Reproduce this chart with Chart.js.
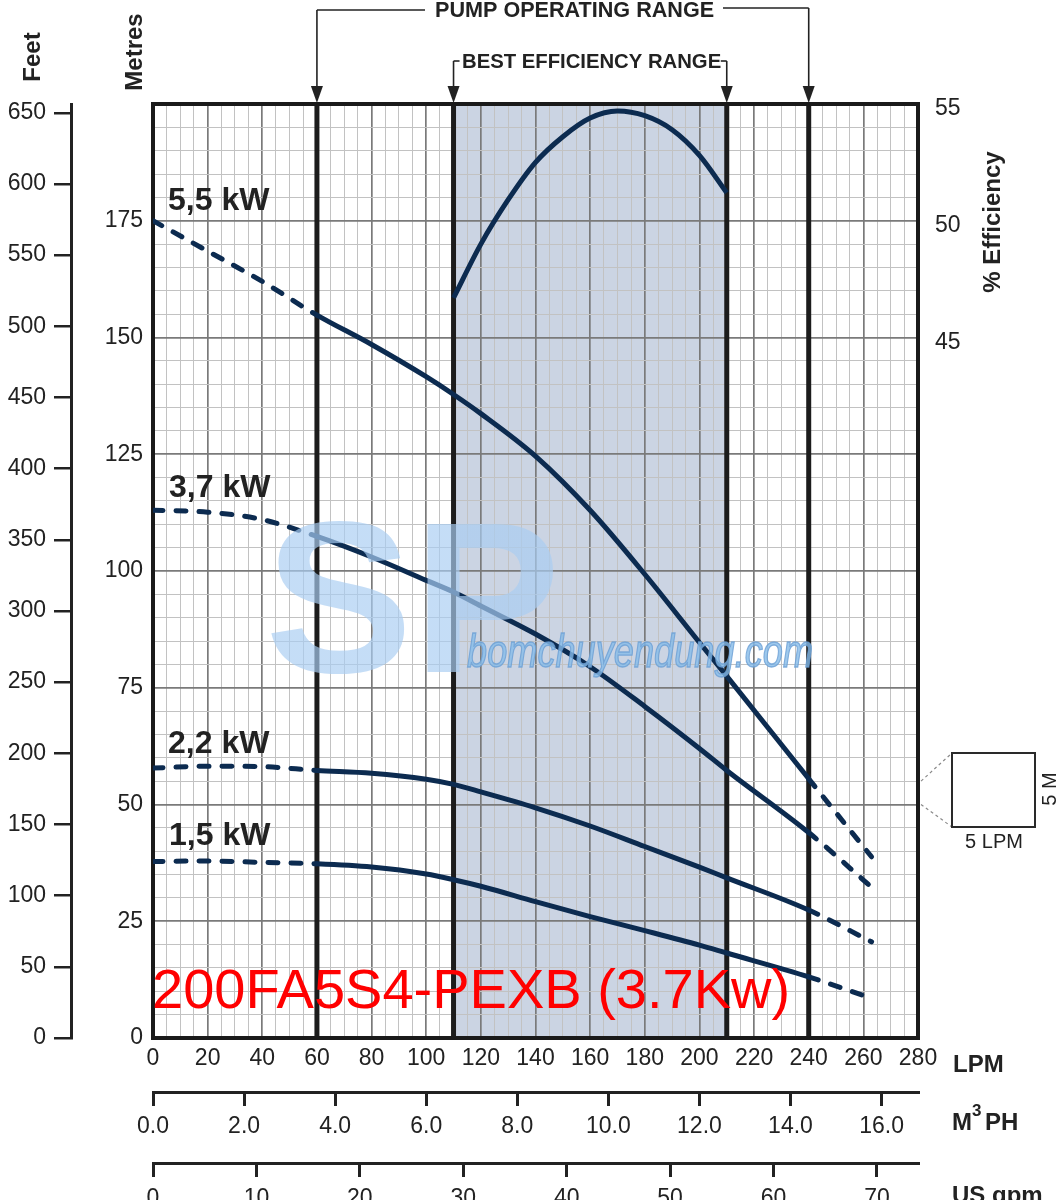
<!DOCTYPE html>
<html><head><meta charset="utf-8">
<script src="https://cdn.jsdelivr.net/npm/chart.js@4.4.1/dist/chart.umd.min.js"></script>
<style>html,body{margin:0;padding:0;background:#fff}canvas{display:block}</style>
</head><body>
<canvas id="c" width="1063" height="1200"></canvas>
<script>
// ---- data ----
const flowLpm = [0, 20, 40, 60, 80, 100, 110, 120, 140, 160, 180, 200, 210, 240, 263];
const head55 = [175, 168.5, 162, 154.8, 148.5, 141.6, 137.8, 133.7, 124.6, 113, 99.3, 84.7, 77.5, 55.5, 38.8];
const head37 = [113, 112.6, 111, 107.4, 103, 98, 95.5, 92.5, 86.5, 79.5, 71, 62, 57.3, 44, 32.3];
const head22 = [57.8, 58.2, 58.1, 57.3, 56.7, 55.4, 54.3, 52.7, 49.3, 45.4, 41, 36.6, 34.3, 27.4, 20.6];
const head15 = [37.8, 37.9, 37.6, 37.3, 36.6, 35.1, 33.9, 32.5, 29.2, 26.0, 23.0, 19.9, 18.2, 13.1, 8.5];
const effFlow = [110, 120, 130, 140, 150, 160, 170, 180, 190, 200, 210];
const effPct = [46.7, 49.0, 50.9, 52.5, 53.6, 54.4, 54.7, 54.5, 53.9, 52.8, 51.2];
const curveNames = ['5,5 kW', '3,7 kW', '2,2 kW', '1,5 kW'];
const operatingRange = [60, 240];
const bestRange = [110, 210];
const lpmRange = [0, 280];
const metreRange = [0, 200];
const effRange = [15, 55];
const effLabelMin = 45;
const title = '200FA5S4-PEXB (3.7Kw)';

// unit conversions for the secondary axes
const feetMax = metreRange[1] / 0.3048;
const m3hMax = lpmRange[1] * 60 / 1000;
const gpmMax = lpmRange[1] / 3.78541;

Chart.defaults.font.family = "'Liberation Sans', Arial, sans-serif";
Chart.defaults.font.size = 23;
Chart.defaults.color = '#222';

const pts = (xs, ys) => xs.map((x, i) => ({x, y: ys[i]}));
const seg = {
  borderDash: c => (c.p1.parsed.x <= operatingRange[0] + 0.01 || c.p0.parsed.x >= operatingRange[1] - 0.01) ? [10, 13] : []
};
const curve = (name, ys) => ({
  label: name, data: pts(flowLpm, ys), xAxisID: 'x', yAxisID: 'y',
  borderColor: '#0c2b50', borderWidth: 5, pointRadius: 0, fill: false,
  cubicInterpolationMode: 'monotone', borderCapStyle: 'round', borderJoinStyle: 'round', segment: seg
});

function arrow(ctx, xp, y0, tip) {
  ctx.beginPath(); ctx.moveTo(xp, y0); ctx.lineTo(xp, tip - 15); ctx.stroke();
  ctx.beginPath(); ctx.moveTo(xp - 6, tip - 17); ctx.lineTo(xp + 6, tip - 17); ctx.lineTo(xp, tip); ctx.closePath(); ctx.fill();
}

const deco = {
  id: 'deco',
  beforeDraw(chart) {
    const {ctx, chartArea: a, scales: {x}} = chart;
    ctx.save();
    ctx.fillStyle = '#fff'; ctx.fillRect(0, 0, chart.width, chart.height);
    const x1 = x.getPixelForValue(bestRange[0]), x2 = x.getPixelForValue(bestRange[1]);
    ctx.fillStyle = '#cbd4e3'; ctx.fillRect(x1, a.top, x2 - x1, a.bottom - a.top);
    ctx.restore();
  },
  beforeDatasetsDraw(chart) {
    const {ctx, chartArea: a, scales: {x, y}} = chart;
    ctx.save();
    ctx.strokeStyle = '#1c1c1c'; ctx.lineWidth = 5;
    [operatingRange[0], bestRange[0], bestRange[1], operatingRange[1]].forEach(v => {
      const p = x.getPixelForValue(v);
      ctx.beginPath(); ctx.moveTo(p, a.top); ctx.lineTo(p, a.bottom); ctx.stroke();
    });
    ctx.lineWidth = 4; ctx.strokeStyle = '#1a1a1a';
    ctx.strokeRect(a.left, a.top, a.right - a.left, a.bottom - a.top);
    ctx.fillStyle = '#222'; ctx.font = "bold 32px 'Liberation Sans', Arial, sans-serif";
    ctx.textAlign = 'left'; ctx.textBaseline = 'alphabetic';
    const lp = [[168, 210], [169, 497], [168, 753], [169, 845]];
    curveNames.forEach((n, i) => ctx.fillText(n, lp[i][0], lp[i][1]));
    ctx.restore();
  },
  afterDraw(chart) {
    const {ctx, chartArea: a, scales: {x, y}} = chart;
    ctx.save();
    // header annotations
    ctx.strokeStyle = '#222'; ctx.fillStyle = '#222'; ctx.lineWidth = 1.6;
    const po0 = x.getPixelForValue(operatingRange[0]), po1 = x.getPixelForValue(operatingRange[1]);
    const be0 = x.getPixelForValue(bestRange[0]), be1 = x.getPixelForValue(bestRange[1]);
    ctx.beginPath(); ctx.moveTo(425, 10); ctx.lineTo(po0, 10); ctx.stroke();
    arrow(ctx, po0, 10, a.top - 1);
    ctx.beginPath(); ctx.moveTo(723, 8); ctx.lineTo(po1, 8); ctx.stroke();
    arrow(ctx, po1, 8, a.top - 1);
    ctx.beginPath(); ctx.moveTo(be0 + 6, 61); ctx.lineTo(be0, 61); ctx.stroke();
    arrow(ctx, be0, 61, a.top - 1);
    ctx.beginPath(); ctx.moveTo(be1 - 6, 61); ctx.lineTo(be1, 61); ctx.stroke();
    arrow(ctx, be1, 61, a.top - 1);
    ctx.font = "bold 21.6px 'Liberation Sans', Arial, sans-serif";
    ctx.textAlign = 'left'; ctx.textBaseline = 'alphabetic';
    ctx.fillText('PUMP OPERATING RANGE', 435, 17);
    ctx.font = "bold 20.3px 'Liberation Sans', Arial, sans-serif";
    ctx.fillText('BEST EFFICIENCY RANGE', 462, 68);

    // rotated axis titles
    const rot = (t, cx, cy, f) => {
      ctx.save(); ctx.translate(cx, cy); ctx.rotate(-Math.PI / 2);
      ctx.font = f; ctx.textAlign = 'center'; ctx.textBaseline = 'middle'; ctx.fillText(t, 0, 0); ctx.restore();
    };
    rot('Feet', 33, 57, "bold 24px 'Liberation Sans', Arial, sans-serif");
    rot('Metres', 135, 52, "bold 24px 'Liberation Sans', Arial, sans-serif");
    rot('% Efficiency', 993, 222, "bold 24px 'Liberation Sans', Arial, sans-serif");

    // bottom axis titles
    ctx.font = "bold 24px 'Liberation Sans', Arial, sans-serif";
    ctx.textAlign = 'left';
    ctx.fillText('LPM', 953, 1072);
    ctx.fillText('M', 952, 1130);
    ctx.fillText('PH', 985, 1130);
    ctx.font = "bold 17px 'Liberation Sans', Arial, sans-serif";
    ctx.fillText('3', 972, 1116);
    ctx.font = "bold 24px 'Liberation Sans', Arial, sans-serif";
    ctx.fillText('US gpm', 952, 1203);

    // grid-cell inset
    const xr = x.getPixelForValue(lpmRange[1]);
    ctx.strokeStyle = '#8a8a8a'; ctx.lineWidth = 1.2; ctx.setLineDash([3, 3]);
    ctx.beginPath(); ctx.moveTo(xr + 3, y.getPixelForValue(55)); ctx.lineTo(952, 753);
    ctx.moveTo(xr + 3, y.getPixelForValue(50)); ctx.lineTo(952, 827); ctx.stroke();
    ctx.setLineDash([]);
    ctx.strokeStyle = '#2a2a2a'; ctx.lineWidth = 2;
    ctx.strokeRect(952, 753, 83, 74);
    ctx.font = "20px 'Liberation Sans', Arial, sans-serif";
    ctx.textAlign = 'center';
    ctx.fillText('5 LPM', 994, 848);
    rot('5 M', 1050, 789, "20px 'Liberation Sans', Arial, sans-serif");

    // watermark
    ctx.save();
    ctx.globalAlpha = 0.68;
    const g = ctx.createLinearGradient(0, 518, 0, 672);
    g.addColorStop(0, '#a9cdf2'); g.addColorStop(0.5, '#86aae4'); g.addColorStop(1, '#6b80cf');
    ctx.fillStyle = g;
    ctx.font = "bold 215px 'Liberation Sans', Arial, sans-serif";
    ctx.textAlign = 'left'; ctx.textBaseline = 'alphabetic';
    ctx.save(); ctx.translate(265, 672); ctx.scale(1.03, 1); ctx.fillText('SP', 0, 0); ctx.restore();
    ctx.globalAlpha = 0.8;
    ctx.translate(467, 667); ctx.scale(0.77, 1);
    ctx.font = "italic 47px 'Liberation Sans', Arial, sans-serif";
    ctx.fillStyle = '#86bbe8'; ctx.fillText('bomchuyendung.com', 0, 0);
    ctx.strokeStyle = '#6b9fd4'; ctx.lineWidth = 1.4; ctx.strokeText('bomchuyendung.com', 0, 0);
    ctx.restore();

    // red model title
    ctx.fillStyle = '#ff0000';
    ctx.font = "56px 'Liberation Sans', Arial, sans-serif";
    ctx.textAlign = 'left'; ctx.textBaseline = 'alphabetic';
    ctx.fillText(title, 152, 1008);
    ctx.restore();
  }
};

const gridColor = step => c => (c.tick && Math.abs(c.tick.value % step) < 1e-6) ? '#7a7a7a' : '#c2c2c2';
const gridWidth = step => c => (c.tick && Math.abs(c.tick.value % step) < 1e-6) ? 1.7 : 1;

new Chart(document.getElementById('c'), {
  type: 'line',
  data: {
    datasets: [
      curve(curveNames[0], head55),
      curve(curveNames[1], head37),
      curve(curveNames[2], head22),
      curve(curveNames[3], head15),
      {label: 'Efficiency', data: pts(effFlow, effPct), xAxisID: 'x', yAxisID: 'yEff',
       borderColor: '#0c2b50', borderWidth: 5, pointRadius: 0, fill: false, cubicInterpolationMode: 'monotone'}
    ]
  },
  options: {
    responsive: false, animation: false, events: [],
    layout: {padding: {top: 104, left: 0, right: 0, bottom: 0}},
    plugins: {legend: {display: false}, tooltip: {enabled: false}},
    scales: {
      x: {type: 'linear', position: 'bottom', weight: 0, min: lpmRange[0], max: lpmRange[1],
        ticks: {stepSize: 5, autoSkip: false, maxRotation: 0, includeBounds: false, padding: 7,
          callback: v => v % 20 === 0 ? String(v) : ''},
        grid: {color: gridColor(20), lineWidth: gridWidth(20), drawTicks: false},
        border: {display: false},
        afterFit: s => { s.height = 54; }},
      x2: {type: 'linear', position: 'bottom', weight: 1, min: 0, max: m3hMax,
        ticks: {stepSize: 2, autoSkip: false, maxRotation: 0, includeBounds: false, padding: 7,
          callback: v => v.toFixed(1)},
        grid: {drawOnChartArea: false, drawTicks: true, tickLength: 14, color: '#222', lineWidth: 3},
        border: {display: true, color: '#222', width: 3},
        afterFit: s => { s.height = 71; }},
      x3: {type: 'linear', position: 'bottom', weight: 2, min: 0, max: gpmMax,
        ticks: {stepSize: 10, autoSkip: false, maxRotation: 0, includeBounds: false, padding: 8},
        grid: {drawOnChartArea: false, drawTicks: true, tickLength: 14, color: '#222', lineWidth: 3},
        border: {display: true, color: '#222', width: 3},
        afterFit: s => { s.height = 37; }},
      y: {type: 'linear', position: 'left', weight: 0, min: metreRange[0], max: metreRange[1],
        ticks: {stepSize: 5, autoSkip: false, includeBounds: false, padding: 10,
          callback: v => (v % 25 === 0 && v < metreRange[1]) ? String(v) : ''},
        grid: {color: gridColor(25), lineWidth: gridWidth(25), drawTicks: false},
        border: {display: false},
        afterFit: s => { s.width = 82; }},
      yFeet: {type: 'linear', position: 'left', weight: 1, min: 0, max: feetMax,
        ticks: {stepSize: 50, autoSkip: false, includeBounds: false, padding: 8},
        grid: {drawOnChartArea: false, drawTicks: true, tickLength: 17, color: '#222', lineWidth: 2.5},
        border: {display: true, color: '#222', width: 3},
        afterFit: s => { s.width = 71; }},
      yEff: {type: 'linear', position: 'right', min: effRange[0], max: effRange[1],
        ticks: {stepSize: 5, autoSkip: false, includeBounds: false, padding: 9, labelOffset: 5,
          callback: v => v >= effLabelMin ? String(v) : ''},
        grid: {display: false},
        border: {display: false},
        afterFit: s => { s.width = 145; }}
    }
  },
  plugins: [deco]
});
</script>
</body></html>
